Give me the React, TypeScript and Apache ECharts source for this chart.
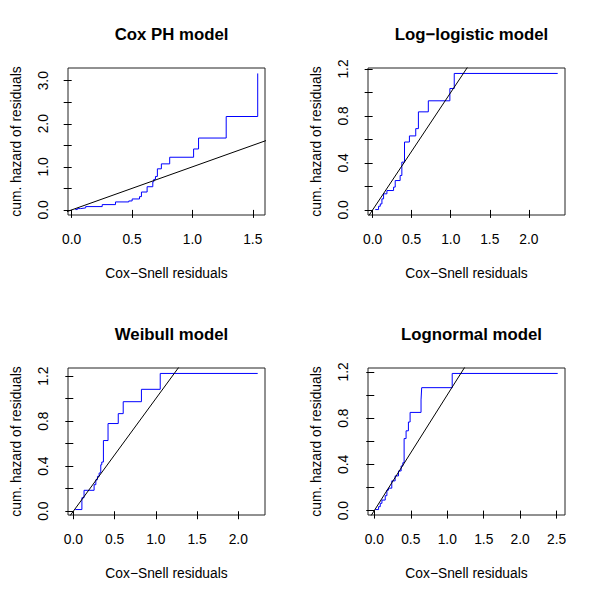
import { useEffect, useRef } from 'react'
import * as echarts from 'echarts'

// Cox-Snell residuals (x) and cumulative hazard of residuals (h)
const coxX = [0.03, 0.047, 0.074, 0.116, 0.253, 0.363, 0.473, 0.501, 0.562, 0.578, 0.625, 0.672, 0.68, 0.694, 0.71, 0.743, 0.812, 1.01, 1.051, 1.28, 1.541]
const coxH = [0.008, 0.03, 0.046, 0.077, 0.123, 0.185, 0.208, 0.254, 0.308, 0.415, 0.538, 0.654, 0.708, 0.777, 0.954, 1.069, 1.223, 1.415, 1.669, 2.169, 3.169]

const loglogX = [0.034, 0.076, 0.098, 0.119, 0.14, 0.183, 0.268, 0.289, 0.352, 0.374, 0.408, 0.471, 0.552, 0.586, 0.713, 0.989, 1.045, 2.37]
const loglogH = [0.003, 0.031, 0.051, 0.094, 0.137, 0.165, 0.194, 0.25, 0.293, 0.407, 0.578, 0.63, 0.692, 0.835, 0.929, 1.034, 1.162, 1.162]

const weibullX = [0.024, 0.104, 0.13, 0.252, 0.273, 0.293, 0.313, 0.333, 0.345, 0.365, 0.421, 0.545, 0.605, 0.826, 1.054, 2.236]
const weibullH = [0.015, 0.12, 0.186, 0.236, 0.28, 0.31, 0.34, 0.413, 0.437, 0.628, 0.779, 0.867, 0.973, 1.083, 1.224, 1.224]

const lognormX = [0.014, 0.059, 0.082, 0.105, 0.15, 0.173, 0.195, 0.24, 0.286, 0.332, 0.368, 0.391, 0.409, 0.436, 0.468, 0.491, 0.641, 0.65, 1.068, 2.514]
const lognormH = [0.009, 0.034, 0.063, 0.091, 0.129, 0.177, 0.194, 0.257, 0.3, 0.343, 0.386, 0.414, 0.623, 0.69, 0.766, 0.849, 0.957, 1.063, 1.186, 1.186]

const titles = ['Cox PH model', 'Log\u2212logistic model', 'Weibull model', 'Lognormal model']
const xTicks = [
  [0, 0.5, 1, 1.5],
  [0, 0.5, 1, 1.5, 2],
  [0, 0.5, 1, 1.5, 2],
  [0, 0.5, 1, 1.5, 2, 2.5]
]
const yTicks = [
  [0, 0.5, 1, 1.5, 2, 2.5, 3],
  [0, 0.2, 0.4, 0.6, 0.8, 1, 1.2],
  [0, 0.2, 0.4, 0.6, 0.8, 1, 1.2],
  [0, 0.2, 0.4, 0.6, 0.8, 1, 1.2]
]
const yLabels = [
  [0, 1, 2, 3],
  [0, 0.4, 0.8, 1.2],
  [0, 0.4, 0.8, 1.2],
  [0, 0.4, 0.8, 1.2]
]
const residuals = [
  [coxX, coxH],
  [loglogX, loglogH],
  [weibullX, weibullH],
  [lognormX, lognormH]
]

const FONT = 'Liberation Sans, Arial, Helvetica, sans-serif'

// R-style axis range: data range stretched by 4%
const rRange = (v: number[]) => {
  const lo = Math.min(...v)
  const hi = Math.max(...v)
  const pad = (hi - lo) * 0.04
  return [lo - pad, hi + pad]
}

export default function App() {
  const ref = useRef<HTMLDivElement | null>(null)

  useEffect(() => {
    if (!ref.current) return
    const chart = echarts.init(ref.current, null, { renderer: 'svg' })

    const grid: any[] = []
    const xAxis: any[] = []
    const yAxis: any[] = []
    const series: any[] = []
    const title: any[] = []

    residuals.forEach(([xs, hs], i) => {
      const ox = (i % 2) * 300
      const oy = Math.floor(i / 2) * 300
      const [x0, x1] = rRange(xs)
      const [y0, y1] = rRange(hs)

      title.push({
        text: titles[i],
        left: ox + 166.5,
        top: oy + 21,
        textAlign: 'center',
        textStyle: { fontFamily: FONT, fontSize: 16.8, fontWeight: 'bold', color: '#000' }
      })

      grid.push({
        left: ox + 68,
        top: oy + 68,
        width: 197,
        height: 147,
        show: true,
        borderColor: '#222',
        borderWidth: 1,
        backgroundColor: 'transparent'
      })

      xAxis.push({
        type: 'value',
        gridIndex: i,
        min: x0,
        max: x1,
        axisLine: { show: false },
        splitLine: { show: false },
        axisTick: {
          show: true,
          length: 8,
          customValues: xTicks[i],
          lineStyle: { color: '#000', width: 1 }
        },
        axisLabel: {
          customValues: xTicks[i],
          margin: 17,
          fontFamily: FONT,
          fontSize: 13.8,
          color: '#000',
          formatter: (v: number) => v.toFixed(1)
        },
        name: 'Cox\u2212Snell residuals',
        nameLocation: 'middle',
        nameGap: 51,
        nameTextStyle: { fontFamily: FONT, fontSize: 13.8, color: '#000' }
      })

      yAxis.push({
        type: 'value',
        gridIndex: i,
        min: y0,
        max: y1,
        axisLine: { show: false },
        splitLine: { show: false },
        axisTick: {
          show: true,
          length: 8,
          customValues: yTicks[i],
          lineStyle: { color: '#000', width: 1 }
        },
        axisLabel: {
          customValues: yLabels[i],
          rotate: 90,
          margin: 18,
          fontFamily: FONT,
          fontSize: 13.8,
          color: '#000',
          formatter: (v: number) => v.toFixed(1)
        },
        name: 'cum. hazard of residuals',
        nameLocation: 'middle',
        nameGap: 45,
        nameTextStyle: { fontFamily: FONT, fontSize: 13.8, color: '#000' }
      })

      series.push({
        type: 'line',
        xAxisIndex: i,
        yAxisIndex: i,
        step: 'end',
        showSymbol: false,
        clip: true,
        lineStyle: { color: '#0000FF', width: 1 },
        data: xs.map((x, k) => [x, hs[k]])
      })

      // y = x reference line across the whole plot region
      const lo = Math.min(x0, y0)
      const hi = Math.max(x1, y1)
      series.push({
        type: 'line',
        xAxisIndex: i,
        yAxisIndex: i,
        showSymbol: false,
        clip: true,
        lineStyle: { color: '#000', width: 1 },
        data: [[lo, lo], [hi, hi]]
      })
    })

    chart.setOption({
      animation: false,
      backgroundColor: '#fff',
      title,
      grid,
      xAxis,
      yAxis,
      series
    })

    return () => chart.dispose()
  }, [])

  return (
    <div
      ref={ref}
      style={{ position: 'fixed', left: 0, top: 0, width: 600, height: 600, background: '#fff' }}
    />
  )
}
